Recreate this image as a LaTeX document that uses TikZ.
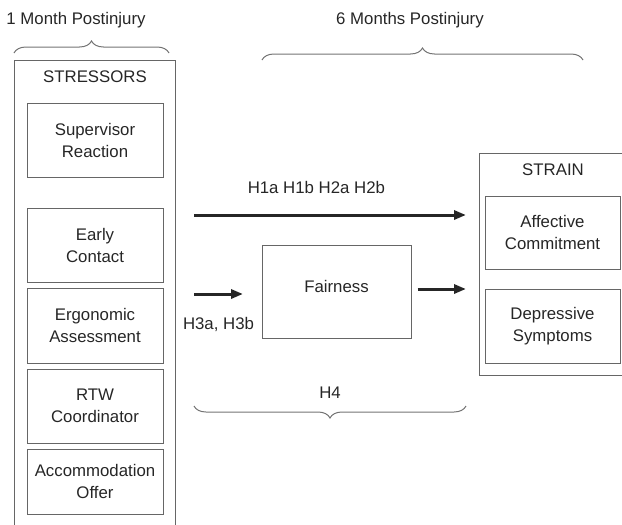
\documentclass[tikz,border=0pt]{standalone}
\usepackage{fontspec}
\setmainfont{Liberation Sans}
\usetikzlibrary{arrows.meta,decorations.pathreplacing}
\begin{document}
\begin{tikzpicture}[x=0.5pt, y=-0.5pt, font=\fontsize{8.4}{11}\selectfont,
        main/.style = {draw=black!60, line width=0.5pt, minimum width=68pt, align=center, text=black!85},
        lbl/.style = {text=black!85, inner sep=0pt},
        hyp/.style = {-{Triangle[length=6pt,width=4.5pt]}, line width=1.5pt, black!85},
        brc/.style = {decorate, decoration={brace, amplitude=6pt}, draw=black!55, line width=0.5pt}]
            \useasboundingbox (0,0) rectangle (622,525);

            % time labels and braces
            \node[lbl] (t1) at (76,20)  {1 Month Postinjury};
            \node[lbl] (t6) at (410,20) {6 Months Postinjury};
            \draw[brc] (14,53) -- (169,53);
            \draw[brc] (262,60) -- (583,60);

            % stressors
            \draw[black!60, line width=0.5pt] (14,525) -- (14,60) -- (175,60) -- (175,525);
            \node[lbl] (stress) at (95,77) {STRESSORS};
            \node[main, minimum height=37pt]   (sup)   at (95,140)   {Supervisor\\Reaction};
            \node[main, minimum height=37pt]   (early) at (95,245)   {Early\\Contact};
            \node[main, minimum height=37.5pt] (ergo)  at (95,325.5) {Ergonomic\\Assessment};
            \node[main, minimum height=37pt]   (rtw)   at (95,406)   {RTW\\Coordinator};
            \node[main, minimum height=32.5pt] (acc)   at (95,481.5) {Accommodation\\Offer};

            % strain
            \draw[black!60, line width=0.5pt] (622,153) -- (479,153) -- (479,375) -- (622,375);
            \node[lbl] (strain) at (553,170) {STRAIN};
            \node[main, minimum width=67.5pt, minimum height=36.5pt] (aff) at (552.5,232.5) {Affective\\Commitment};
            \node[main, minimum width=67.5pt, minimum height=37pt]   (dep) at (552.5,326)   {Depressive\\Symptoms};

            % mediator
            \node[main, minimum width=74.5pt, minimum height=46.5pt, text depth=5pt] (fair) at (336.5,291.5) {Fairness};

            \coordinate (h1from) at (194,215);
            \coordinate (h1to)   at (466,215);
            \coordinate (h3from) at (194,294);
            \coordinate (h3to)   at (243,294);
            \coordinate (medto)  at (466,289);

            \draw[hyp] (h1from) to node[pos=0.45, above=10pt, lbl] {H1a H1b H2a H2b} (h1to);
            \draw[hyp] (h3from) to node[midway, below=11pt, lbl] {H3a, H3b} (h3to);
            \draw[hyp, shorten <=3pt] (fair.east |- medto) to (medto);

            \node[lbl] (h4) at (330,393) {H4};
            \draw[brc] (466,406) -- (194,406);
        \end{tikzpicture}
\end{document}
